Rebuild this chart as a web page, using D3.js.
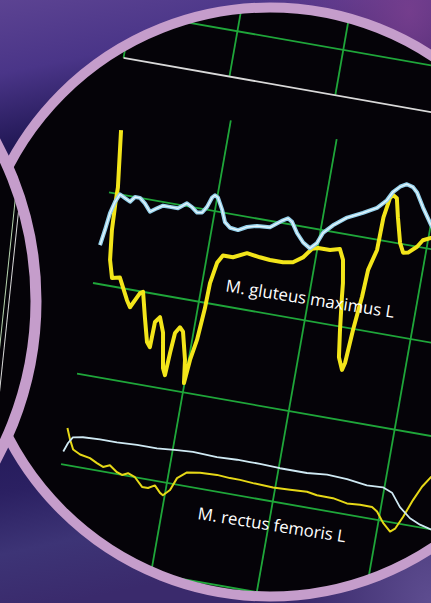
<!DOCTYPE html>
<html>
<head>
<meta charset="utf-8">
<script src="https://cdn.jsdelivr.net/npm/d3@7"></script>
<style>
  html, body { margin: 0; padding: 0; background: #2a1f60; }
  svg { display: block; }
</style>
</head>
<body>
<div id="chart"></div>
<script>
// EMG traces, time in s, amplitude in µV  ([t, value])
const gluteusYellow = [
  [0.01,269],[0.074,207],[0.076,190],[0.088,160],[0.119,128],[0.166,109],[0.237,111],
  [0.339,88],[0.378,81],[0.447,98],[0.473,100],[0.531,73],[0.590,47],[0.625,42],
  [0.631,70],[0.669,76],[0.722,60],[0.779,22],[0.808,15],[0.819,40],[0.832,62],
  [0.868,69],[0.903,65],[0.967,35],[0.995,10],[1.013,36],[1.045,59],[1.066,94],
  [1.072,122],[1.104,145],[1.146,154],[1.241,154],[1.363,161],[1.487,159],[1.584,158],
  [1.707,158],[1.798,160],[1.882,167],[1.952,178],[2.005,180],[2.118,180],[2.207,183],
  [2.253,172],[2.290,147],[2.303,132],[2.339,96],[2.373,67],[2.421,54],[2.438,62],
  [2.458,99],[2.487,136],[2.499,166],[2.549,189],[2.555,225],[2.583,247],[2.607,251],
  [2.647,248],[2.687,228],[2.748,201],[2.792,191],[2.837,192],[2.910,200],[2.953,208],
  [3.024,212],[3.15,215],[3.3,210]
];
const gluteusBlue = [
  [0.003,142],[0.024,159],[0.043,178],[0.071,191],[0.103,200],[0.156,197],[0.208,194],
  [0.246,200],[0.293,200],[0.347,195],[0.407,187],[0.465,192],[0.517,196],[0.582,196],
  [0.658,196],[0.732,203],[0.784,200],[0.840,195],[0.886,196],[0.922,203],[0.953,214],
  [0.976,217],[1.007,215],[1.064,203],[1.111,190],[1.167,185],[1.243,184],[1.320,189],
  [1.411,192],[1.531,193],[1.639,203],[1.682,206],[1.725,203],[1.788,192],[1.860,183],
  [1.931,178],[1.987,185],[2.026,197],[2.105,207],[2.222,218],[2.360,226],[2.481,234],
  [2.559,244],[2.601,254],[2.658,261],[2.716,265],[2.777,263],[2.823,258],[2.902,243],
  [3.003,226],[3.1,212],[3.2,205]
];
const rectusYellow = [
  [0.0,140],[0.043,128],[0.087,118],[0.159,114],[0.255,112],[0.327,108],[0.389,105],
  [0.449,108],[0.525,102],[0.576,100],[0.628,103],[0.698,100],[0.779,91],[0.835,91],
  [0.894,95],[0.953,88],[0.983,86],[1.040,93],[1.085,107],[1.167,115],[1.287,117],
  [1.446,118],[1.570,117],[1.665,117],[1.789,116],[1.980,115],[2.139,116],[2.298,117],
  [2.394,115],[2.546,115],[2.682,112],[2.805,113],[2.918,113],[2.971,109],[3.045,98],
  [3.123,90],[3.164,94],[3.218,108],[3.282,128],[3.343,144],[3.409,156],[3.5,165],[3.6,172]
];
const rectusWhite = [
  [0.0,114],[0.030,124],[0.065,131],[0.157,133],[0.316,134],[0.476,134],[0.665,135],
  [0.853,135],[1.039,137],[1.189,138],[1.417,137],[1.605,138],[1.727,138],[1.822,138],
  [2.012,137],[2.267,137],[2.454,139],[2.644,138],[2.836,135],[2.986,136],[3.078,132],
  [3.174,118],[3.284,108],[3.386,103],[3.494,100],[3.6,96],[3.7,94]
];
const topTrace = [[0.0,0],[4.5,0]];

const xTicks = [1, 2, 3, 4];
const topXTicks = [0, 1, 2, 3];
const gluteusGrid = [200, 100, 0];
const rectusGrid = [100, 0, -100];
const topGrid = [50];
const leftTicks = [-0.045, 0];

const labels = [
  { text: "M. gluteus maximus L", t: 1.223, v: 116, ch: "g" },
  { text: "M. rectus femoris L", t: 1.334, v: 67, ch: "r" }
];

const W = 431, H = 603;
const svg = d3.select("#chart").append("svg").attr("width", W).attr("height", H);
const defs = svg.append("defs");

const bg = defs.append("linearGradient").attr("id", "bg")
  .attr("x1", 0).attr("y1", 0).attr("x2", 0.15).attr("y2", 1);
[["0", "#5c4392"], ["0.12", "#4a3588"], ["0.24", "#221856"], ["0.6", "#1c1450"],
 ["0.8", "#2b2062"], ["0.9", "#3d3476"], ["1", "#3a2a6c"]]
  .forEach(s => bg.append("stop").attr("offset", s[0]).attr("stop-color", s[1]));

const glow = defs.append("radialGradient").attr("id", "glow")
  .attr("cx", 0.95).attr("cy", 0.02).attr("r", 0.35);
glow.append("stop").attr("offset", "0").attr("stop-color", "#7a3f8f").attr("stop-opacity", 0.9);
glow.append("stop").attr("offset", "1").attr("stop-color", "#7a3f8f").attr("stop-opacity", 0);

const glow2 = defs.append("radialGradient").attr("id", "glow2")
  .attr("cx", 1).attr("cy", 1).attr("r", 0.3);
glow2.append("stop").attr("offset", "0").attr("stop-color", "#5e4d90").attr("stop-opacity", 1);
glow2.append("stop").attr("offset", "1").attr("stop-color", "#5e4d90").attr("stop-opacity", 0);

svg.append("rect").attr("width", W).attr("height", H).attr("fill", "url(#bg)");
svg.append("rect").attr("width", W).attr("height", H).attr("fill", "url(#glow)");
svg.append("rect").attr("width", W).attr("height", H).attr("fill", "url(#glow2)");

// lens geometry
const big = { cx: 270, cy: 302, r: 294.5 };
const small = { cx: -298, cy: 301, r: 334 };
const RING = "#c59dcb";

defs.append("clipPath").attr("id", "bigClip").append("circle")
  .attr("cx", big.cx).attr("cy", big.cy).attr("r", big.r - 4);
defs.append("clipPath").attr("id", "smallClip").append("circle")
  .attr("cx", small.cx).attr("cy", small.cy).attr("r", small.r - 5);

svg.append("circle").attr("cx", big.cx).attr("cy", big.cy).attr("r", big.r)
  .attr("fill", "#050308");

// scales (inside rotated plot frame)
const x = d3.scaleLinear().domain([0, 4]).range([0, 430]);
const xTop = d3.scaleLinear().domain([0, 4]).range([-9, 421]);
const yG = d3.scaleLinear().domain([0, 100]).range([92, 0]);
const yR = d3.scaleLinear().domain([0, 100]).range([276, 184]);
const yT = d3.scaleLinear().domain([0, 50]).range([-227, -273]);

const clipG = svg.append("g").attr("clip-path", "url(#bigClip)");
const plot = clipG.append("g").attr("transform", "translate(93,283) rotate(10)");

const GREEN = "#1fa63a";
const GW = 1.8;

// grid of the two lower channels
plot.selectAll(".vgrid").data(xTicks).join("line")
  .attr("x1", d => x(d)).attr("x2", d => x(d))
  .attr("y1", yG(300)).attr("y2", yR(-250))
  .attr("stroke", GREEN).attr("stroke-width", GW);
plot.selectAll(".hg").data(gluteusGrid).join("line")
  .attr("x1", x(0)).attr("x2", x(6))
  .attr("y1", d => yG(d)).attr("y2", d => yG(d))
  .attr("stroke", GREEN).attr("stroke-width", GW);
plot.selectAll(".hr").data(rectusGrid).join("line")
  .attr("x1", x(0)).attr("x2", x(6))
  .attr("y1", d => yR(d)).attr("y2", d => yR(d))
  .attr("stroke", GREEN).attr("stroke-width", GW);

// top channel grid (separate window)
plot.selectAll(".tv").data(topXTicks).join("line")
  .attr("x1", d => xTop(d)).attr("x2", d => xTop(d))
  .attr("y1", yT(250)).attr("y2", yT(0))
  .attr("stroke", GREEN).attr("stroke-width", GW);
plot.selectAll(".th").data(topGrid).join("line")
  .attr("x1", xTop(0)).attr("x2", xTop(6))
  .attr("y1", d => yT(d)).attr("y2", d => yT(d))
  .attr("stroke", GREEN).attr("stroke-width", GW);

const lineG = d3.line().x(d => x(d[0])).y(d => yG(d[1]));
const lineR = d3.line().x(d => x(d[0])).y(d => yR(d[1]));
const lineT = d3.line().x(d => xTop(d[0])).y(d => yT(d[1]));

plot.append("path").datum(topTrace).attr("d", lineT)
  .attr("fill", "none").attr("stroke", "#d9d9d9").attr("stroke-width", 1.8);

plot.append("path").datum(rectusYellow).attr("d", lineR)
  .attr("fill", "none").attr("stroke", "#e6d817").attr("stroke-width", 2)
  .attr("stroke-linejoin", "round");
plot.append("path").datum(rectusWhite).attr("d", lineR)
  .attr("fill", "none").attr("stroke", "#cfe9f3").attr("stroke-width", 1.8)
  .attr("stroke-linejoin", "round");

plot.append("path").datum(gluteusYellow).attr("d", lineG)
  .attr("fill", "none").attr("stroke", "#f3e51a").attr("stroke-width", 4)
  .attr("stroke-linejoin", "round");
plot.append("path").datum(gluteusBlue).attr("d", lineG)
  .attr("fill", "none").attr("stroke", "#96d2ec").attr("stroke-width", 4)
  .attr("stroke-linejoin", "round");
plot.append("path").datum(gluteusBlue).attr("d", lineG)
  .attr("fill", "none").attr("stroke", "#e6f5fb").attr("stroke-width", 1.3)
  .attr("stroke-linejoin", "round");

plot.selectAll(".lbl").data(labels).join("text")
  .attr("x", d => x(d.t))
  .attr("y", d => d.ch === "g" ? yG(d.v) : yR(d.v))
  .attr("transform", d => `rotate(-1,${x(d.t)},${d.ch === "g" ? yG(d.v) : yR(d.v)})`)
  .attr("fill", "#ffffff")
  .attr("font-family", "'Open Sans', sans-serif")
  .attr("font-size", "16.8px")
  .text(d => d.text);

svg.append("circle").attr("cx", big.cx).attr("cy", big.cy).attr("r", big.r)
  .attr("fill", "none").attr("stroke", RING).attr("stroke-width", 10);

// second lens at the left edge
svg.append("circle").attr("cx", small.cx).attr("cy", small.cy).attr("r", small.r)
  .attr("fill", "#050308");
const xL = d3.scaleLinear().domain([0, 1]).range([0, 100]);
const leftG = svg.append("g").attr("clip-path", "url(#smallClip)")
  .append("g").attr("transform", "translate(26,140) rotate(6)");
leftG.selectAll("line").data(leftTicks).join("line")
  .attr("x1", d => xL(d)).attr("x2", d => xL(d))
  .attr("y1", d => d === 0 ? 0 : 36).attr("y2", 300)
  .attr("stroke", (d, i) => i === 0 ? "#b8d6b0" : "#d8d8d8")
  .attr("stroke-width", 1);
svg.append("circle").attr("cx", small.cx).attr("cy", small.cy).attr("r", small.r)
  .attr("fill", "none").attr("stroke", RING).attr("stroke-width", 11);
</script>
</body>
</html>
